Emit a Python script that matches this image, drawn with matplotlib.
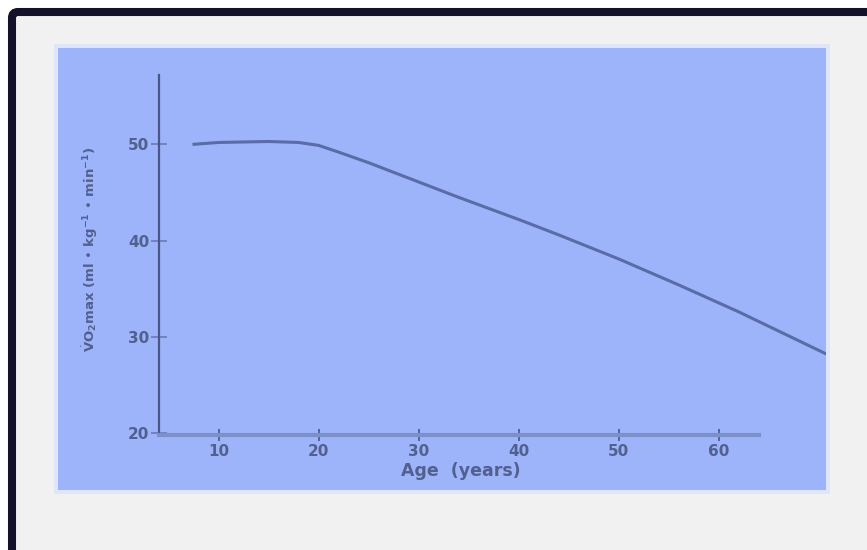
import matplotlib.pyplot as plt
from matplotlib.patches import FancyBboxPatch, Rectangle

# VO2max vs age
ages = [7.4, 10, 15, 18, 20, 22, 25, 30, 34, 40, 44, 50, 56, 62, 70.8]
vo2max = [50.0, 50.2, 50.3, 50.2, 49.9, 49.2, 48.1, 46.1, 44.5, 42.2, 40.6, 38.1, 35.4, 32.6, 28.2]

x_ticks = [10, 20, 30, 40, 50, 60]
y_ticks = [20, 30, 40, 50]

plt.rcParams['font.family'] = ['DejaVu Sans']
txt = '#52608f'

fig = plt.figure(figsize=(8.67, 5.5), dpi=100, facecolor='white')
inch = fig.dpi_scale_trans

# slide frame (black edge only shows top and left)
fig.patches.append(FancyBboxPatch((0.12, -1), 10, 6.38, boxstyle='round,pad=0,rounding_size=0.06',
                                  lw=5.8, ec='#14112a', fc='#f1f1f1', transform=inch, zorder=-3))
# blue picture with a faint halo
fig.patches.append(Rectangle((0.54, 0.56), 7.76, 4.50, fc='#dfe6fb', ec='none', transform=inch, zorder=-2))
fig.patches.append(Rectangle((0.58, 0.60), 7.68, 4.42, fc='#9db4fa', ec='none', transform=inch, zorder=-1))

ax = fig.add_axes([58 / 867, 60 / 550, 768 / 867, 442 / 550])
ax.set_zorder(5)
ax.patch.set_alpha(0)
ax.set_xlim(-6.05, 70.75)
ax.set_ylim(14.07, 60.02)

ax.plot(ages, vo2max, color='#5a6ca5', lw=2.2, solid_capstyle='butt')

for s in ['top', 'right']:
    ax.spines[s].set_visible(False)
ax.spines['left'].set_position(('data', 4))
ax.spines['left'].set_bounds(20, 57.2)
ax.spines['left'].set_color('#4a5688')
ax.spines['left'].set_linewidth(1.6)
ax.spines['bottom'].set_position(('data', 19.8))
ax.spines['bottom'].set_bounds(4, 64)
ax.spines['bottom'].set_color('#7d90c9')
ax.spines['bottom'].set_linewidth(3)

ax.set_xticks(x_ticks)
ax.set_yticks(y_ticks)
ax.tick_params(axis='y', direction='inout', length=11, width=1.2, color='#6a7bb5',
               labelsize=11, labelcolor=txt, pad=1)
ax.tick_params(axis='x', direction='inout', length=9, width=1.4, color='#55639a',
               labelsize=11, labelcolor=txt, pad=2)
for lab in ax.get_xticklabels() + ax.get_yticklabels():
    lab.set_fontweight('bold')

ax.set_xlabel('Age  (years)', fontsize=12.5, fontweight='bold', color=txt)
ax.xaxis.set_label_coords(0.524, 0.042)
ax.xaxis.label.set_va('center')
ax.set_ylabel(r'$\dot{\mathbf{V}}\mathbf{O}_\mathbf{2}$max (ml • kg$^{\mathbf{-1}}$ • min$^{\mathbf{-1}}$)',
              fontsize=9.5, fontweight='bold', color=txt)
ax.yaxis.set_label_coords(0.042, 0.545)
ax.yaxis.label.set_va('center')

fig.savefig('out.png', dpi=100, facecolor=fig.get_facecolor())
